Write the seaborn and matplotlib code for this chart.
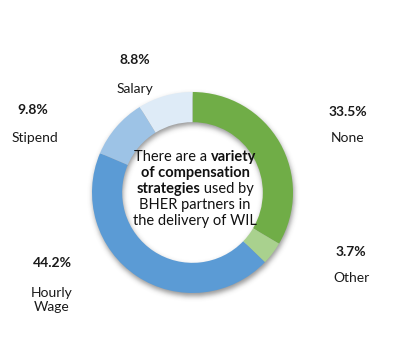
import numpy as np
import matplotlib
matplotlib.use("Agg")
import matplotlib.pyplot as plt
import seaborn as sns

# Compensation strategies used by BHER partners in WIL delivery
categories = ["None", "Other", "Hourly Wage", "Stipend", "Salary"]
shares = [33.5, 3.7, 44.2, 9.8, 8.8]
display_names = ["None", "Other", "Hourly\nWage", "Stipend", "Salary"]
slice_colors = ["#70AD47", "#A9D18E", "#5B9BD5", "#9DC3E6", "#DEEBF7"]

sns.set_theme(style="white")
plt.rcParams["font.family"] = ["Lato", "DejaVu Sans"]

W, H = 409, 348
fig = plt.figure(figsize=(W / 100, H / 100), dpi=100)
ax = fig.add_axes([0, 0, 1, 1])
ax.set_xlim(0, W)
ax.set_ylim(0, H)
ax.set_aspect("equal")
ax.axis("off")

cx, cy_img = 192.5, 192.5
cy = H - cy_img
R = 100.5
ring = 0.30


def img_y(y):
    return H - y


# soft drop shadow of the ring (cast slightly downward)
yy, xx = np.mgrid[0:H, 0:W]
sx, sy = cx + 1.0, cy_img + 3.0
dist = np.hypot(xx + 0.5 - sx, yy + 0.5 - sy)
mask = ((dist <= R) & (dist >= R * (1 - ring))).astype(float)
k = np.exp(-0.5 * (np.arange(-8, 9) / 2.6) ** 2)
k /= k.sum()
blur = np.apply_along_axis(lambda r: np.convolve(r, k, mode="same"), 1, mask)
blur = np.apply_along_axis(lambda c: np.convolve(c, k, mode="same"), 0, blur)
shadow = np.zeros((H, W, 4))
shadow[..., :3] = 0.25
shadow[..., 3] = blur * 0.55
ax.imshow(shadow, extent=(0, W, 0, H), origin="upper", zorder=0, interpolation="bilinear")

ax.pie(
    shares,
    colors=slice_colors,
    startangle=90,
    counterclock=False,
    radius=R,
    center=(cx, cy),
    wedgeprops=dict(width=R * ring, linewidth=0, edgecolor="none"),
    frame=True,
)
ax.set_xlim(0, W)
ax.set_ylim(0, H)
ax.axis("off")

# label layout (image pixel centres): percentage, then name
label_layout = {
    "None": ((348, 112), (348, 138)),
    "Other": ((351, 252), (351, 278)),
    "Hourly Wage": ((52, 263), (52, 300)),
    "Stipend": ((33, 110), (35, 138)),
    "Salary": ((135, 60), (135, 89)),
}
for cat, val, name in zip(categories, shares, display_names):
    (px, py), (nx, ny) = label_layout[cat]
    ax.text(px, img_y(py), f"{val:.1f}%", ha="center", va="center",
            fontsize=10, fontweight="bold", color="#1a1a1a")
    ax.text(nx, img_y(ny), name, ha="center", va="center",
            fontsize=10, color="#1a1a1a", linespacing=1.2)

# centre message with mixed weights
center_lines = [
    [("There are a ", "normal"), ("variety", "bold")],
    [("of compensation", "bold")],
    [("strategies", "bold"), (" used by", "normal")],
    [("BHER partners in", "normal")],
    [("the delivery of WIL", "normal")],
]
line_y = [157, 173, 189, 205, 221]
renderer = fig.canvas.get_renderer()
for parts, ly in zip(center_lines, line_y):
    texts = []
    widths = []
    for s, wgt in parts:
        t = ax.text(0, img_y(ly), s, ha="left", va="center", fontsize=10.5,
                    fontweight=wgt, color="#111111")
        bb = t.get_window_extent(renderer=renderer)
        texts.append(t)
        widths.append(bb.width)
    total = sum(widths)
    x0 = 195 - total / 2
    for t, w in zip(texts, widths):
        t.set_x(x0)
        x0 += w

fig.savefig("out.png", dpi=100)
